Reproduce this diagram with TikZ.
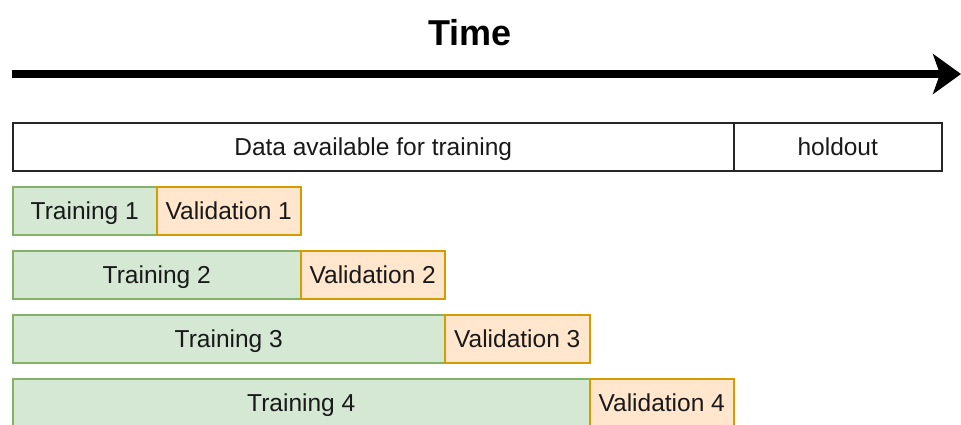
\documentclass[tikz,border=0pt]{standalone}
\usepackage{fontspec}
\setmainfont{Liberation Sans}
\usetikzlibrary{arrows.meta}
\definecolor{trainfill}{HTML}{D5E8D4}
\definecolor{trainline}{HTML}{82B366}
\definecolor{valfill}{HTML}{FFE6CC}
\definecolor{valline}{HTML}{D79B00}
\tikzset{
  base/.style={rectangle, inner sep=0pt, anchor=north west, minimum height=48pt,
    text height=17.5pt, text depth=0pt,
    line width=1.5pt, font=\fontsize{24.5}{28}\selectfont, text=black!90},
  plainbox/.style={base, draw=black!85, fill=white},
  trainbox/.style={base, draw=trainline, fill=trainfill},
  valbox/.style={base, draw=valline, fill=valfill},
}
\begin{document}
\begin{tikzpicture}[x=1pt, y=-1pt]
  \useasboundingbox (0,0) rectangle (961,424);

  % title and time axis
  \node[font=\bfseries\fontsize{36}{40}\selectfont, anchor=base] (title) at (470,45) {Time};
  \coordinate (axisstart) at (12,74);
  \coordinate (axisend) at (961,74);
  \draw[line width=8pt, -{Stealth[length=28pt, width=40pt, inset=7pt]}] (axisstart) -- (axisend);

  % available data vs. holdout
  \node[plainbox, minimum width=721pt] (data) at (12,122) {Data available for training};
  \node[plainbox, minimum width=208pt] (holdout) at (733,122) {holdout};

  % expanding-window folds
  \node[trainbox, minimum width=144pt] (t1) at (12,186) {Training 1};
  \node[valbox, minimum width=144pt] (v1) at (156,186) {Validation 1};

  \node[trainbox, minimum width=288pt] (t2) at (12,250) {Training 2};
  \node[valbox, minimum width=144pt] (v2) at (300,250) {Validation 2};

  \node[trainbox, minimum width=432pt] (t3) at (12,314) {Training 3};
  \node[valbox, minimum width=145pt] (v3) at (444,314) {Validation 3};

  \node[trainbox, minimum width=577pt] (t4) at (12,378) {Training 4};
  \node[valbox, minimum width=144pt] (v4) at (589,378) {Validation 4};
\end{tikzpicture}
\end{document}
